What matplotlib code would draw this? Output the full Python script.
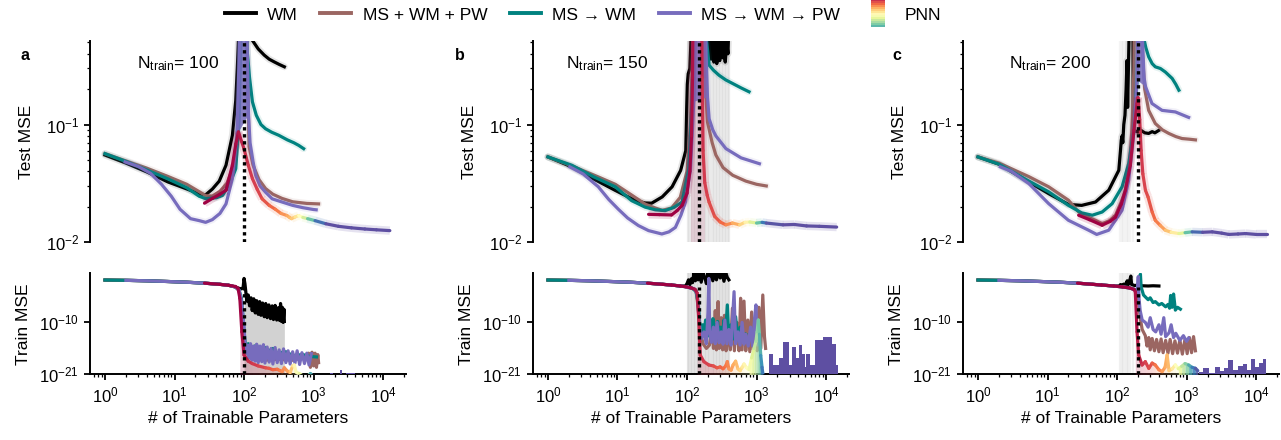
import numpy as np
import matplotlib
matplotlib.use('Agg')
import matplotlib.pyplot as plt
from matplotlib.collections import LineCollection
from matplotlib.legend_handler import HandlerBase
from matplotlib.lines import Line2D
from matplotlib.patches import Rectangle
from matplotlib.ticker import NullFormatter, NullLocator, LogLocator

plt.rcParams['font.family'] = ['Liberation Sans', 'DejaVu Sans']
plt.rcParams['mathtext.fontset'] = 'custom'
plt.rcParams['mathtext.rm'] = 'Liberation Sans'
plt.rcParams['mathtext.it'] = 'Liberation Sans:italic'
plt.rcParams['mathtext.bf'] = 'Liberation Sans:bold'

# ---------------- data ----------------
n_train = [100, 150, 200]
panel_letters = ['a', 'b', 'c']
legend_labels = ['WM', 'MS + WM + PW', 'MS \u2192 WM', 'MS \u2192 WM \u2192 PW', 'PNN']
line_colors = ['#000000', '#9b6662', '#00827f', '#776cbd']

# test MSE, (params, mse)
wm_test_a = [(1, 0.055), (2, 0.047), (4, 0.0395), (8, 0.0325), (15, 0.0283), (22.7, 0.0257), (28, 0.0252),
             (35, 0.0282), (44, 0.033), (55, 0.045), (68, 0.081), (76, 0.16), (80, 0.30), (84, 0.6), (88, 3),
             (126, 3), (132, 0.52), (160, 0.44), (195, 0.39), (230, 0.36), (270, 0.342), (320, 0.325), (380, 0.31)]
brown_test_a = [(1, 0.0565), (2, 0.049), (4, 0.0425), (8, 0.0362), (15, 0.031), (22.7, 0.0268), (28, 0.0248),
                (35, 0.0246), (45, 0.027), (57, 0.0318), (71, 0.045), (80, 0.08), (86, 0.25), (90, 3), (106, 3),
                (110, 0.6), (118, 0.065), (135, 0.045), (164, 0.034), (204, 0.0285), (260, 0.0255), (352, 0.0235),
                (500, 0.022), (800, 0.0213), (1180, 0.0211)]
teal_test_a = [(1, 0.0565), (2, 0.0485), (4, 0.041), (8, 0.0345), (15, 0.029), (22.7, 0.0245), (28, 0.0234),
               (40, 0.0238), (49, 0.0249), (62, 0.031), (76, 0.042), (85, 0.112), (90, 0.5), (94, 3), (106, 3),
               (110, 0.45), (120, 0.25), (132, 0.156), (150, 0.12), (175, 0.1), (204, 0.092), (250, 0.086),
               (316, 0.081), (420, 0.074), (520, 0.07), (610, 0.0665), (720, 0.0623)]
purple_test_a = [(1.95, 0.048), (3, 0.044), (4.5, 0.0385), (6.5, 0.031), (9, 0.0245), (12, 0.019), (17, 0.0158),
                 (22.7, 0.0152), (28, 0.0147), (35, 0.0155), (45, 0.0175), (55, 0.0211), (68, 0.0346), (79, 0.081),
                 (84, 0.3), (87, 0.8), (90, 3), (104, 3), (110, 0.6), (116, 0.12), (122, 0.07), (135, 0.048),
                 (147, 0.037), (170, 0.03), (204, 0.0265), (254, 0.0233), (352, 0.0219), (500, 0.0205),
                 (700, 0.0196), (1000, 0.0189), (1090, 0.0188)]
# (params, mse, colour position in Spectral)
pnn_test_a = [(27, 0.0214, 0.0), (35, 0.0235, 0.0), (45, 0.0255, 0.0), (55, 0.0276, 0.0), (68, 0.045, 0.01),
              (76, 0.068, 0.02), (83, 0.0865, 0.03), (92, 0.072, 0.05), (100, 0.062, 0.07), (115, 0.045, 0.09),
              (132, 0.0346, 0.1), (155, 0.028, 0.11), (182, 0.0233, 0.13), (230, 0.0205, 0.17), (282, 0.019, 0.2),
              (340, 0.0175, 0.24), (414, 0.0168, 0.28), (450, 0.0162, 0.31), (480, 0.0158, 0.33),
              (540, 0.0163, 0.38), (610, 0.0168, 0.45), (700, 0.0162, 0.55), (820, 0.0158, 0.7),
              (1050, 0.0152, 0.88), (1500, 0.0143, 1.0), (2280, 0.0136, 1.0), (3500, 0.0132, 1.0),
              (5460, 0.0129, 1.0), (8000, 0.0127, 1.0), (12500, 0.0125, 1.0)]

wm_test_b = [(1, 0.053), (2.2, 0.0436), (4.5, 0.0345), (9.3, 0.0275), (18, 0.0226), (25, 0.0215), (31, 0.0214),
             (44, 0.0242), (61, 0.0295), (81, 0.0407), (96, 0.06), (99, 0.14), (101, 0.22), (104, 0.27), (110, 0.3),
             (115, 0.6), (122, 3), (183, 3), (188, 0.45), (195, 0.6), (203, 0.38), (212, 0.52), (222, 0.36),
             (232, 0.45), (243, 0.34), (255, 0.42), (268, 0.33), (282, 0.4), (296, 0.35), (310, 0.48),
             (325, 0.37), (340, 0.41), (355, 0.34), (372, 0.5), (388, 0.4), (405, 0.9)]
brown_test_b = [(1, 0.053), (2.2, 0.0445), (5.3, 0.0358), (9.3, 0.031), (16, 0.0251), (25, 0.021), (31.5, 0.0199),
                (44, 0.0186), (60, 0.0195), (80, 0.024), (100, 0.04), (112, 0.1), (122, 0.5), (126, 3), (172, 3),
                (176, 0.4), (190, 0.15), (197, 0.105), (230, 0.07), (260, 0.055), (330, 0.043), (454, 0.037),
                (700, 0.033), (1000, 0.031), (1380, 0.03)]
teal_test_b = [(1, 0.053), (2.2, 0.045), (4.5, 0.036), (9.3, 0.0295), (16, 0.0225), (25, 0.0198), (35, 0.0188),
               (48.5, 0.0185), (65, 0.0197), (85, 0.0219), (106, 0.042), (118, 0.156), (124, 0.6), (128, 3),
               (180, 3), (186, 0.6), (208, 0.32), (240, 0.29), (288, 0.263), (360, 0.24), (450, 0.224),
               (600, 0.205), (780, 0.19)]
purple_test_b = [(2.06, 0.0436), (3.2, 0.038), (5.3, 0.0295), (7.5, 0.023), (10.3, 0.019), (14, 0.016),
                 (20, 0.0138), (28, 0.0125), (43.5, 0.0117), (55, 0.0122), (68, 0.0133), (82, 0.017),
                 (95, 0.0219), (112, 0.042), (125, 0.156), (130, 0.5), (134, 3), (180, 3), (188, 0.4),
                 (197, 0.17), (208, 0.112), (235, 0.09), (260, 0.08), (362, 0.0624), (600, 0.052), (1100, 0.0464)]
pnn_test_b = [(28, 0.0172, 0.0), (40, 0.0171, 0.0), (60, 0.017, 0.0), (72, 0.0185, 0.0), (85, 0.0205, 0.0),
              (100, 0.026, 0.01), (110, 0.04, 0.01), (116, 0.08, 0.02), (120, 0.25, 0.03), (124, 3, 0.03),
              (160, 3, 0.05), (165, 0.25, 0.08), (170, 0.06, 0.09), (180, 0.032, 0.1), (195, 0.025, 0.11),
              (208, 0.0218, 0.12), (250, 0.0165, 0.14), (300, 0.0148, 0.17), (362, 0.014, 0.22),
              (450, 0.0145, 0.27), (570, 0.014, 0.33), (680, 0.0147, 0.42), (800, 0.0148, 0.5),
              (1000, 0.0145, 0.72), (1200, 0.0147, 0.88), (1380, 0.0145, 0.97), (2400, 0.014, 1.0),
              (3500, 0.0141, 1.0), (5240, 0.0137, 1.0), (8000, 0.0136, 1.0), (14200, 0.0134, 1.0)]

wm_test_c = [(1, 0.053), (2, 0.046), (5.4, 0.0324), (10.4, 0.0258), (20, 0.0209), (31, 0.0205), (49, 0.0219),
             (76, 0.0276), (106, 0.0408), (112, 0.06), (115, 0.0735), (118, 0.08), (121, 0.07), (125, 0.1),
             (130, 0.12), (135, 0.2), (139, 0.35), (142, 0.14), (150, 0.7), (158, 3), (168, 3), (171, 0.09),
             (185, 0.088), (200, 0.086), (215, 0.09), (229, 0.088), (250, 0.085), (285, 0.084), (320, 0.087),
             (350, 0.085), (397, 0.089)]
brown_test_c = [(1, 0.053), (2, 0.047), (5.4, 0.036), (10.4, 0.0295), (20, 0.0227), (28, 0.018), (38, 0.0163),
                (49, 0.0153), (61, 0.0143), (78, 0.0152), (95, 0.0169), (115, 0.022), (132, 0.0276),
                (150, 0.045), (164, 0.0895), (175, 0.3), (182, 3), (225, 3), (232, 0.4), (250, 0.2),
                (285, 0.132), (355, 0.102), (450, 0.09), (555, 0.084), (700, 0.079), (860, 0.076),
                (1100, 0.075), (1340, 0.074)]
teal_test_c = [(1, 0.053), (2, 0.046), (5.4, 0.033), (10.4, 0.0267), (20, 0.0205), (31, 0.0177), (44, 0.0169),
               (61, 0.018), (85, 0.0212), (118, 0.0295), (147, 0.0465), (175, 0.0895), (194, 0.239), (200, 0.6),
               (206, 3), (236, 3), (241, 0.55), (260, 0.45), (285, 0.377), (320, 0.33), (355, 0.31), (420, 0.3),
               (495, 0.28), (620, 0.247), (700, 0.22), (775, 0.196)]
purple_test_c = [(2.1, 0.0436), (3, 0.04), (5.4, 0.0314), (10.4, 0.0212), (20, 0.0153), (39, 0.0126),
                 (51, 0.0116), (76, 0.0126), (118, 0.0186), (147, 0.0336), (175, 0.0895), (194, 0.239),
                 (199, 0.7), (203, 3), (225, 3), (233, 0.5), (245, 0.25), (257, 0.21), (318, 0.151),
                 (444, 0.132), (690, 0.128), (1070, 0.115)]
pnn_test_c = [(28, 0.0169, 0.0), (40, 0.0155, 0.0), (61, 0.0139, 0.0), (80, 0.015, 0.0), (95, 0.0163, 0.0),
              (115, 0.021, 0.0), (132, 0.0276, 0.01), (155, 0.045, 0.02), (175, 0.0895, 0.03), (194, 0.151, 0.04),
              (200, 0.17, 0.05), (212, 0.11, 0.07), (222, 0.06, 0.09), (235, 0.038, 0.1), (256, 0.0276, 0.12),
              (279, 0.0242, 0.13), (320, 0.018, 0.17), (355, 0.0153, 0.2), (420, 0.0138, 0.25),
              (495, 0.0126, 0.3), (600, 0.0121, 0.38), (775, 0.0118, 0.5), (950, 0.012, 0.7),
              (1200, 0.0122, 0.9), (1700, 0.0121, 1.0), (2340, 0.0122, 1.0), (3200, 0.0119, 1.0),
              (4050, 0.0116, 1.0), (5500, 0.0117, 1.0), (7040, 0.0118, 1.0), (10000, 0.0116, 1.0),
              (14500, 0.0116, 1.0)]

# train MSE, (params, log10 mse)
train_head = [(1, -1.04), (2, -1.1), (4, -1.2), (8, -1.35), (15, -1.5), (27, -1.7), (45, -1.95)]

wm_train_a = train_head + [(60, -2.15), (75, -2.5), (85, -2.8), (92, -2.9), (97, -2.6), (100, -0.7), (103, -1.8),
                           (106, -3.5), (110, -5.5), (115, -4.2), (120, -6.5), (126, -4.8), (131, -7.5),
                           (138, -5.0), (145, -8.0), (152, -5.4), (160, -8.3), (168, -5.6), (175, -8.5),
                           (185, -5.9), (195, -8.8), (205, -6.0), (215, -9.0), (228, -6.3), (240, -9.2),
                           (254, -6.5), (265, -9.4), (280, -6.4), (295, -9.5), (310, -6.9), (325, -9.6),
                           (335, -6.0), (345, -9.8), (355, -6.8), (365, -10.0), (375, -7.2), (380, -9.8)]
brown_train_a = train_head + [(60, -2.15), (75, -2.5), (85, -3.2), (90, -6), (95, -10), (100, -13), (106, -16),
                              (120, -17.5), (150, -17.8), (200, -18), (300, -17.8), (500, -18), (700, -17.5),
                              (850, -16.5), (900, -19.5), (950, -16.3), (1000, -19.2), (1050, -16.5),
                              (1100, -19.5), (1150, -16.8), (1180, -18.5)]
teal_train_a = train_head + [(60, -2.15), (75, -2.5), (85, -3.2), (92, -5), (97, -9), (100, -12), (105, -15),
                             (115, -14.5), (130, -15.5), (150, -14.8), (170, -16), (194, -15.2), (230, -16),
                             (260, -15.5), (300, -16.5), (400, -16.2), (500, -17), (700, -16.8), (900, -17.2),
                             (1100, -17.3)]
purple_train_a = train_head[1:] + [(60, -2.15), (75, -2.5), (85, -3.2), (92, -5.5), (97, -9), (100, -11),
                                   (103, -14), (108, -16.5), (112, -14.8), (118, -17.5), (124, -14.5), (130, -18),
                                   (137, -15), (144, -18.2), (152, -14.6), (160, -18.5), (170, -15), (180, -18.3),
                                   (190, -14.7), (200, -18.6), (215, -15.2), (230, -18.4), (245, -15.5),
                                   (260, -18.8), (280, -15.3), (300, -18.5), (320, -15.8), (345, -18.7),
                                   (370, -15.6), (400, -18.5), (430, -16), (460, -18.8), (500, -16.2),
                                   (540, -18.6), (580, -16.0), (630, -18.9), (680, -16.4), (740, -18.7),
                                   (800, -16.5), (860, -19), (930, -16.6)]
pnn_train_a = [(27, -1.7, 0.0), (45, -1.95, 0.0), (60, -2.15, 0.0), (75, -2.4, 0.0), (82, -2.8, 0.0),
               (87, -4.9, 0.0), (93, -12, 0.01), (100, -16.9, 0.03), (115, -18.2, 0.07), (131, -18.7, 0.09),
               (160, -19.2, 0.1), (204, -19.6, 0.13), (228, -19.7, 0.15), (260, -20.0, 0.17), (300, -19.9, 0.2),
               (330, -20.2, 0.22), (353, -20.4, 0.24), (380, -19.6, 0.25), (420, -20.3, 0.27), (460, -20.6, 0.3),
               (500, -19.2, 0.38), (530, -19.0, 0.45), (560, -20.5, 0.5), (620, -20.8, 0.55), (700, -21.3, 0.62),
               (800, -21.5, 0.7), (900, -20.8, 0.8), (1000, -21.5, 0.9), (1200, -22.5, 1.0)]
pnn_tail_edges_a = [1750, 1900, 2400, 2600, 2950, 3400, 3500, 4000]
pnn_tail_a = [-20.8, -30, -20.1, -30, -20.6, -30, -20.6]

wm_train_b = train_head + [(60, -2.1), (80, -2.3), (95, -2.3), (100, -1.8), (105, -1.0), (110, -2.0), (115, -0.8),
                           (120, -1.6), (126, 0.5), (132, -1.2), (138, 0.5), (145, -1.0), (152, 0.5), (160, -1.5),
                           (170, 0.5), (180, -0.5), (190, -1.8), (200, 0.5), (210, -0.8), (222, 0.5), (235, -1.2),
                           (250, 0.5), (265, -1.0), (280, 0.5), (300, -0.6), (320, 0.5), (340, -1.3), (360, 0.5),
                           (380, -0.5), (400, -1.0)]
brown_train_b = train_head + [(60, -2.1), (80, -2.3), (95, -2.45), (120, -2.8), (135, -3.2), (145, -7),
                              (155, -12), (170, -14.5), (190, -15.5), (210, -14.8), (230, -11), (240, -15.5),
                              (255, -7.5), (265, -15.8), (280, -5.6), (290, -15.5), (310, -9), (325, -15.8),
                              (345, -8.5), (365, -16), (390, -12), (420, -15.8), (450, -7), (480, -16),
                              (520, -10), (560, -16), (590, -4.9), (620, -15.8), (660, -5.5), (700, -16),
                              (750, -9.5), (800, -16.2), (850, -7.8), (900, -15.8), (960, -9), (1020, -16),
                              (1080, -6.8), (1150, -15.5), (1230, -4.2), (1300, -13), (1350, -15.5)]
teal_train_b = train_head + [(60, -2.1), (80, -2.3), (95, -2.45), (120, -2.8), (135, -3.5), (145, -6), (152, -10),
                             (160, -12), (168, -10.5), (175, -12.8), (185, -9.5), (195, -13), (205, -8.5),
                             (212, -12.5), (220, -10), (228, -13.2), (236, -9.2), (245, -13), (255, -10.5),
                             (265, -13.5), (275, -9.8), (290, -13.2), (305, -11), (320, -13.5), (340, -9.5),
                             (355, -13.4), (380, -6.3), (400, -13.6), (430, -10.5), (460, -13.5), (500, -8.8),
                             (540, -13.8), (580, -11), (630, -13.5), (700, -12.5)]
purple_train_b = train_head[1:] + [(60, -2.1), (80, -2.3), (95, -2.45), (120, -2.8), (130, -3.0), (140, -4),
                                   (150, -10), (160, -13.5), (175, -12), (190, -14.5), (200, -8), (206, -0.7),
                                   (212, -12), (225, -14.2), (240, -11), (255, -14.5), (270, -10), (290, -14.3),
                                   (310, -12), (330, -14.6), (350, -9.5), (375, -14.5), (400, -11.5),
                                   (430, -14.8), (475, -3.5), (500, -14.5), (540, -12), (580, -14.8),
                                   (620, -10), (660, -14.6), (700, -12.5), (760, -15), (820, -11), (880, -15),
                                   (940, -9), (980, -6.3), (1020, -14.8), (1080, -13), (1100, -14.5)]
pnn_train_b = [(27, -1.7, 0.0), (45, -1.95, 0.0), (60, -2.1, 0.0), (80, -2.3, 0.0), (95, -2.45, 0.0),
               (115, -2.7, 0.01), (130, -3.0, 0.02), (140, -3.8, 0.04), (147, -9, 0.06), (155, -16.9, 0.08),
               (175, -18.3, 0.1), (206, -19, 0.11), (240, -19.2, 0.13), (270, -19.6, 0.15), (300, -19.4, 0.17),
               (330, -19.8, 0.19), (360, -19.2, 0.21), (380, -18.3, 0.23), (400, -19.8, 0.25), (430, -20.1, 0.27),
               (460, -19, 0.29), (500, -18.2, 0.31), (540, -19.8, 0.34), (580, -20.2, 0.37), (620, -19.5, 0.41),
               (660, -18.8, 0.45), (720, -19.6, 0.49), (780, -20, 0.52), (850, -17.5, 0.58), (920, -15.5, 0.64),
               (980, -14, 0.68), (1020, -12, 0.72), (1060, -9.5, 0.75), (1100, -12.5, 0.8), (1150, -17, 0.85),
               (1200, -19.5, 0.9), (1250, -21.5, 0.95), (1300, -23, 1.0)]
pnn_tail_edges_b = [1520, 1750, 2130, 2390, 2950, 3200, 3700, 4100, 4500, 5000, 5200, 5800, 6900, 9100,
                    12000, 13800, 15000]
pnn_tail_b = [-16.6, -19.0, -17.6, -14.1, -19.0, -15.1, -17.6, -14.8, -16.6, -19.5, -16.6, -19.0, -13.7,
              -13.0, -14.5, -19.0]

wm_train_c = train_head + [(60, -2.1), (90, -2.3), (107, -2.3), (112, -2.0), (118, -2.2), (125, -1.9),
                           (132, -2.1), (140, -1.2), (145, -2.0), (150, -1.5), (158, -0.2), (162, -2.0),
                           (170, -2.1), (180, -2.2), (200, -2.1), (229, -2.25), (280, -2.3), (330, -2.25),
                           (400, -2.3)]
brown_train_c = train_head + [(60, -2.1), (90, -2.3), (120, -2.5), (150, -2.7), (175, -3.0), (195, -3.4),
                              (205, -6), (215, -9), (230, -11.5), (255, -12.8), (270, -15), (286, -13.2),
                              (300, -15.8), (320, -13.4), (345, -16), (370, -13.6), (400, -16.2), (430, -13.5),
                              (460, -16.4), (500, -13.8), (540, -16.5), (580, -13.6), (630, -16.6),
                              (680, -13.9), (740, -16.5), (800, -13.7), (870, -16.7), (950, -13.5),
                              (1020, -16.6), (1100, -13.2), (1180, -16.4), (1260, -13.0), (1340, -16.0)]
teal_train_c = train_head + [(60, -2.1), (90, -2.3), (120, -2.5), (150, -2.7), (175, -3.0), (195, -3.2),
                             (205, -3.0), (210, -0.5), (217, 0.2), (222, -2.5), (240, -4.2), (255, -4.6),
                             (280, -5.2), (300, -4.8), (330, -5.8), (355, -5.6), (400, -6.3), (440, -6.0),
                             (500, -6.7), (540, -6.2), (570, -7.0), (590, -4.3), (620, -6.8), (650, -4.0),
                             (690, -7.4), (740, -6.8), (815, -7.2)]
purple_train_c = train_head[1:] + [(60, -2.1), (90, -2.3), (120, -2.5), (150, -2.7), (175, -3.0), (195, -3.4),
                                   (202, -0.3), (207, -4.9), (215, -7.5), (230, -9.5), (255, -10.0),
                                   (280, -11.0), (300, -9.0), (330, -11.5), (360, -12.0), (400, -10.5),
                                   (430, -12.5), (470, -9.0), (500, -13.0), (560, -12.2), (600, -10.5),
                                   (650, -13.2), (700, -12.3), (800, -13.8), (900, -12.8), (1000, -14.0),
                                   (1070, -13.3)]
pnn_train_c = [(27, -1.7, 0.0), (45, -1.95, 0.0), (60, -2.1, 0.0), (90, -2.3, 0.0), (120, -2.5, 0.0),
               (150, -2.7, 0.0), (175, -3.0, 0.01), (183, -3.5, 0.02), (194, -12, 0.04), (205, -16.9, 0.06),
               (229, -19, 0.08), (255, -18.3, 0.1), (286, -19.7, 0.12), (320, -18.6, 0.15), (355, -19, 0.2),
               (400, -20.0, 0.23), (445, -20.4, 0.26), (490, -19.5, 0.29), (525, -16.9, 0.31),
               (560, -20.2, 0.34), (620, -19.8, 0.4), (690, -19, 0.47), (760, -19.8, 0.55), (850, -19.3, 0.63),
               (950, -18.7, 0.7), (1070, -19, 0.8), (1200, -19.5, 0.88), (1340, -19.7, 0.95),
               (1450, -20.2, 1.0)]
pnn_tail_edges_c = [1500, 1700, 2100, 2600, 3000, 3500, 4000, 4700, 5500, 6500, 7300, 8500, 9800, 11000,
                    12500, 14000]
pnn_tail_c = [-20.4, -19.7, -20.6, -19.4, -20.2, -19.6, -18.0, -20.0, -19.2, -18.7, -20.0, -17.7, -19.5,
              -18.6, -17.7]

# WM spread lines (runs whose error band reaches the axis) and PNN spread near the peak
wm_spread = [[],
             [102, 108, 113, 119, 125, 131, 138, 145, 153, 161, 170, 179, 189, 199, 210, 221, 233, 245, 258,
              272, 286, 301, 317, 334, 351, 369, 388, 405],
             [110, 116, 122, 129, 137, 146, 156, 167]]
wm_spread_alpha = [0.0, 0.55, 0.3]
wm_fill_train = [True, False, False]
wm_cap_test = [None, 183, None]
pnn_spread_test = [None, (115, 180), None]
purple_peak_floor = [0.075, 0.15, 0.2]
ntrain_text_x = [0.15, 0.105, 0.145]

tests = [(wm_test_a, brown_test_a, teal_test_a, purple_test_a, pnn_test_a),
         (wm_test_b, brown_test_b, teal_test_b, purple_test_b, pnn_test_b),
         (wm_test_c, brown_test_c, teal_test_c, purple_test_c, pnn_test_c)]
trains = [(wm_train_a, brown_train_a, teal_train_a, purple_train_a, pnn_train_a),
          (wm_train_b, brown_train_b, teal_train_b, purple_train_b, pnn_train_b),
          (wm_train_c, brown_train_c, teal_train_c, purple_train_c, pnn_train_c)]
tails = [(pnn_tail_edges_a, pnn_tail_a), (pnn_tail_edges_b, pnn_tail_b), (pnn_tail_edges_c, pnn_tail_c)]

cmap = plt.get_cmap('Spectral')
XLIM = (0.61, 2.14e4)
TEST_YLIM = (1e-2, 0.515)
TRAIN_YLIM = (1e-21, 2.29)


def to_xy(pairs, log_y=False):
    a = np.array(pairs, dtype=float)
    y = 10.0 ** a[:, 1] if log_y else a[:, 1]
    return a[:, 0], y


def draw_pnn(ax, triples, log_y=False, under=True, fill=False):
    a = np.array(triples, dtype=float)
    x, c = a[:, 0], a[:, 2]
    y = 10.0 ** a[:, 1] if log_y else a[:, 1]
    pts = np.column_stack([x, y])
    segs = np.stack([pts[:-1], pts[1:]], axis=1)
    cols = cmap((c[:-1] + c[1:]) / 2)
    if under:
        ax.add_collection(LineCollection(segs, colors=cols, linewidths=6, alpha=0.16, zorder=4.5))
    if fill:
        for i in range(len(segs)):
            if min(y[i], y[i + 1]) > 1e-8:
                continue
            al = 0.22 if c[i] < 0.5 else 0.85
            ax.fill_between(x[i:i + 2], TRAIN_YLIM[0], y[i:i + 2], color=cols[i], alpha=al, lw=0, zorder=4.4)
    ax.add_collection(LineCollection(segs, colors=cols, linewidths=2.3, capstyle='round',
                                     joinstyle='round', zorder=5))


def style_axis(ax, bottom):
    ax.set_xscale('log')
    ax.set_yscale('log')
    ax.set_xlim(*XLIM)
    for s in ['top', 'right']:
        ax.spines[s].set_visible(False)
    for s in ['left', 'bottom']:
        ax.spines[s].set_linewidth(1.4)
    ax.tick_params(which='major', length=4.5, width=1.3, labelsize=12)
    ax.tick_params(which='minor', length=2.5, width=0.9)
    if bottom:
        ax.xaxis.set_major_locator(LogLocator(base=10, numticks=10))
        ax.xaxis.set_minor_locator(LogLocator(base=10, subs=np.arange(2, 10), numticks=20))
        ax.xaxis.set_minor_formatter(NullFormatter())
    else:
        ax.spines['bottom'].set_visible(False)
        ax.tick_params(axis='x', which='both', bottom=False, labelbottom=False)


class PNNHandle:
    pass


class GradientHandler(HandlerBase):
    def create_artists(self, legend, orig_handle, xdescent, ydescent, width, height, fontsize, trans):
        n = 14
        bw = width * 0.45
        th = height * 2.3
        x0 = -xdescent + (width - bw) / 2
        y0 = -ydescent + height / 2 - th / 2
        arts = []
        for i in range(n):
            col = cmap(0.82 - 0.74 * i / (n - 1))
            arts.append(Rectangle((x0, y0 + i * th / n), bw, th / n + 0.2, facecolor=col,
                                  edgecolor='none', transform=trans))
        return arts


fig = plt.figure(figsize=(12.81, 4.40), dpi=100)
lefts = [0.0703, 0.4161, 0.7518]
width = 0.2467

for i in range(3):
    n = n_train[i]
    ax_t = fig.add_axes([lefts[i], 0.45, width, 0.457])
    ax_b = fig.add_axes([lefts[i], 0.149, width, 0.2296])
    style_axis(ax_t, bottom=False)
    style_axis(ax_b, bottom=True)

    # ---- test MSE ----
    ax = ax_t
    for xs in wm_spread[i]:
        ax.axvline(xs, color='#cfcfcf', lw=1.6, alpha=wm_spread_alpha[i] * 0.7, zorder=0.5)
    if pnn_spread_test[i] is not None:
        ax.axvspan(*pnn_spread_test[i], color=cmap(0.02), alpha=0.13, lw=0, zorder=0.6)
    wm, brown, teal, purple, pnn = tests[i]
    for pairs, col, z in [(wm, line_colors[0], 2), (brown, line_colors[1], 2.5),
                          (teal, line_colors[2], 3), (purple, line_colors[3], 3.5)]:
        x, y = to_xy(pairs)
        ax.plot(x, y, color=col, lw=5, alpha=0.1, solid_capstyle='round', zorder=z - 0.2)
        ax.plot(x, y, color=col, lw=2.3, solid_joinstyle='round', zorder=z)
    x, y = to_xy(wm)
    if wm_cap_test[i] is not None:
        m = x >= wm_cap_test[i]
        ax.fill_between(x[m], y[m], 3, color='k', lw=0, zorder=2)
    x, y = to_xy(purple)
    m = y >= purple_peak_floor[i]
    ax.fill(x[m], y[m], color=line_colors[3], alpha=0.85, lw=0, zorder=3.4)
    draw_pnn(ax, pnn)
    ax.axvline(n, color='k', lw=2.4, ls=(0, (1, 1.1)), zorder=10)
    ax.set_ylim(*TEST_YLIM)
    ax.set_yticks([1e-2, 1e-1])
    ax.yaxis.set_minor_locator(LogLocator(base=10, subs=np.arange(2, 10), numticks=10))
    ax.yaxis.set_minor_formatter(NullFormatter())
    ax.set_ylabel('Test MSE', fontsize=12.5, labelpad=8)
    ax.text(ntrain_text_x[i], 0.885, r'$\mathrm{N_{train}}$= %d' % n, transform=ax.transAxes,
            fontsize=12.5, va='center', ha='left')

    # ---- train MSE ----
    ax = ax_b
    for xs in wm_spread[i]:
        ax.axvline(xs, color='#cfcfcf', lw=1.6, alpha=wm_spread_alpha[i], zorder=0.5)
    wm, brown, teal, purple, pnn = trains[i]
    x, y = to_xy(wm, log_y=True)
    if wm_fill_train[i]:
        m = x >= n
        ax.fill_between(x[m], TRAIN_YLIM[0], y[m], color='#d2d2d2', lw=0, zorder=0.7)
    for pairs, col, z in [(wm, line_colors[0], 2), (brown, line_colors[1], 2.5),
                          (teal, line_colors[2], 3), (purple, line_colors[3], 3.5)]:
        x, y = to_xy(pairs, log_y=True)
        ax.plot(x, y, color=col, lw=2.3, solid_joinstyle='round', zorder=z)
    draw_pnn(ax, pnn, log_y=True, under=False, fill=True)
    edges, vals = tails[i]
    ax.stairs(10.0 ** np.array(vals), edges, baseline=TRAIN_YLIM[0], fill=True,
              color=cmap(1.0), zorder=5)
    ax.axvline(n, ymax=0.87, color='k', lw=2.4, ls=(0, (1, 1.1)), zorder=10)
    ax.set_ylim(*TRAIN_YLIM)
    ax.set_yticks([1e-21, 1e-10], [r'$10^{-21}$', r'$10^{-10}$'])
    ax.yaxis.set_minor_locator(NullLocator())
    ax.set_ylabel('Train MSE', fontsize=12.5, labelpad=6)
    ax.set_xlabel('# of Trainable Parameters', fontsize=12.5)

    fig.text([0.0195, 0.359, 0.700][i], 0.875, panel_letters[i], fontsize=11.5, fontweight='bold',
             ha='center', va='center')

handles = [Line2D([], [], color=c, lw=2.8) for c in line_colors] + [PNNHandle()]
fig.legend(handles, legend_labels, handler_map={PNNHandle: GradientHandler()}, loc='center',
           bbox_to_anchor=(0.455, 0.966), ncol=5, frameon=False, fontsize=12.5, handlelength=1.8,
           handletextpad=0.64, columnspacing=1.3)

fig.savefig('out.png', dpi=100)
